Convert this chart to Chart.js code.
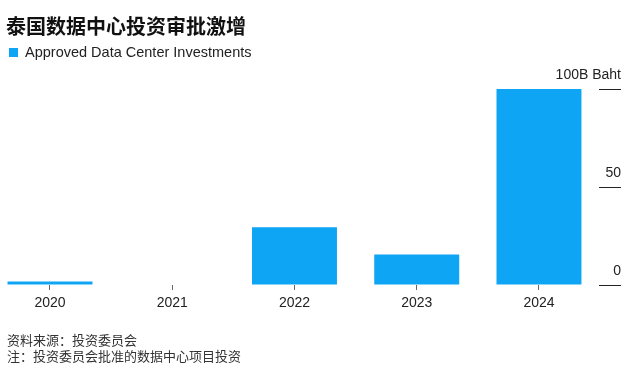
<!DOCTYPE html>
<html>
<head>
<meta charset="utf-8">
<script src="https://cdn.jsdelivr.net/npm/chart.js@4"></script>
<style>
  body { margin: 0; background: #fff; }
  #wrap { position: relative; width: 642px; height: 384px; font-family: "Liberation Sans", Arial, "Noto Sans CJK SC", sans-serif; }
  #chart { position: absolute; left: 0; top: 0; }
  .title { position: absolute; left: 6px; top: 13px; font-size: 20px; font-weight: bold; color: #111; font-family: "Noto Sans CJK SC", sans-serif; line-height: 26px; }
  .legend { position: absolute; left: 9px; top: 43px; font-size: 14.5px; color: #222; line-height: 18px; }
  .legend i { display: inline-block; width: 9px; height: 9px; background: #0ea5f5; margin-right: 7px; vertical-align: 0px; }
  .notes { position: absolute; left: 7px; top: 332px; font-size: 13px; color: #333; line-height: 16px; font-family: "Noto Sans CJK SC", sans-serif; }
</style>
</head>
<body>
<div id="wrap">
  <canvas id="chart" width="642" height="384"></canvas>
  <div class="title">泰国数据中心投资审批激增</div>
  <div class="legend"><i></i>Approved Data Center Investments</div>
  <div class="notes">资料来源：投资委员会<br>注：投资委员会批准的数据中心项目投资</div>
</div>
<script>
// 年份与审批金额（十亿泰铢）
const years = ["2020", "2021", "2022", "2023", "2024"];
const approved = [1.8, 0, 29.5, 15.5, 100];
const yTicks = [0, 50, 100];

const barColor = "#0ea5f5";

const ctx = document.getElementById("chart").getContext("2d");
const chart = new Chart(ctx, {
  type: "bar",
  data: {
    datasets: [
      {
        label: "Approved Data Center Investments",
        data: approved.map((v, i) => ({ x: i, y: v })),
        backgroundColor: barColor,
        borderWidth: 0,
        barPercentage: 0.695,
        categoryPercentage: 1.0,
      },
    ],
  },
  options: {
    responsive: false,
    animation: false,
    layout: { padding: { top: 89, bottom: 69, left: 0, right: 0 } },
    plugins: {
      legend: { display: false },
      tooltip: { enabled: false },
    },
    scales: {
      x: {
        type: "linear",
        offset: false,
        min: -0.409,
        max: 4.491,
        afterBuildTicks: (scale) => { scale.ticks = years.map((y, i) => ({ value: i })); },
        grid: { display: true, drawOnChartArea: false, offset: false, tickLength: 5, color: "#666" },
        border: { display: false },
        ticks: {
          color: "#222",
          font: { size: 14, family: "Liberation Sans, Arial" },
          padding: 5,
          maxRotation: 0,
          autoSkip: false,
          callback: (v) => years[v],
        },
        afterFit: (scale) => { scale.height = 30; },
      },
      y: {
        position: "right",
        min: yTicks[0],
        max: yTicks[yTicks.length - 1],
        afterBuildTicks: (scale) => { scale.ticks = yTicks.map((v) => ({ value: v })); },
        grid: { drawOnChartArea: false, tickLength: 22, color: "#222", lineWidth: 1 },
        border: { display: false },
        ticks: {
          mirror: true,
          padding: 22,
          labelOffset: -14,
          color: "#222",
          font: { size: 14, family: "Liberation Sans, Arial" },
          callback: (v) => (v === 100 ? "100B Baht" : v),
        },
        afterFit: (scale) => { scale.width = 43; },
      },
    },
  },
});
</script>
</body>
</html>
